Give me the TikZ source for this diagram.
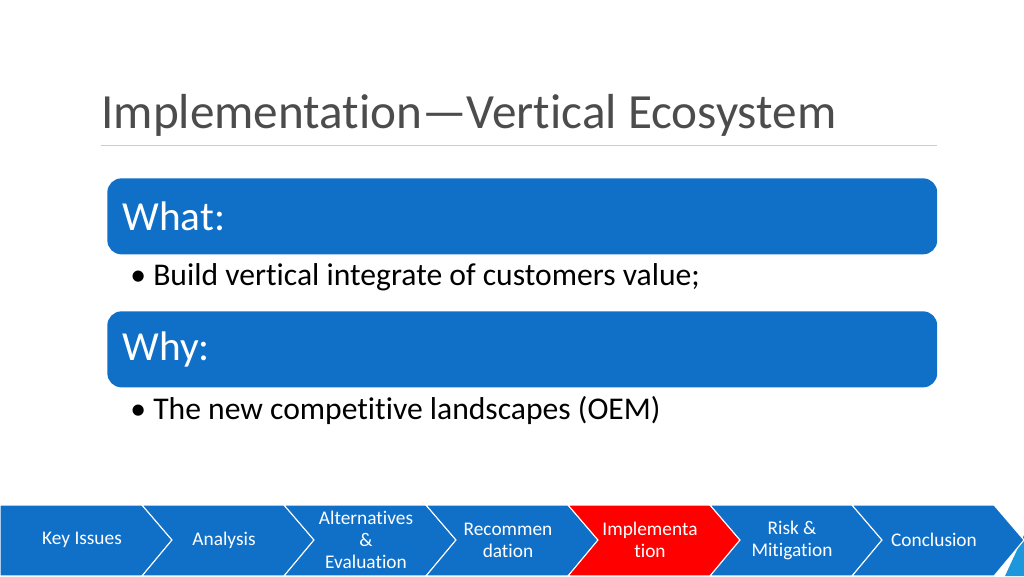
\documentclass[tikz,border=0pt]{standalone}
\usepackage{fontspec}
\setmainfont[Ligatures={NoCommon,NoContextual}]{Carlito}
\definecolor{BoxBlue}{RGB}{16,112,200}
\definecolor{ChevRed}{RGB}{255,0,0}
\definecolor{EdgeBlue}{RGB}{30,150,220}
\usetikzlibrary{positioning}
\begin{document}
\begin{tikzpicture}[x=0.02cm,y=-0.02cm]
	\tikzstyle{head}=[fill=BoxBlue, rounded corners=8pt, text=white, anchor=north west, minimum width=16.58cm, minimum height=1.52cm, font=\fontsize{23.5}{27}\selectfont, text width=16cm, align=left, inner xsep=0.3cm];
	\tikzstyle{bullet}=[anchor=west, font=\fontsize{18}{21}\selectfont, inner sep=0pt];
	\tikzstyle{chev}=[draw=white, line width=0.6pt];
	\tikzstyle{chevtext}=[text=white, font=\fontsize{11}{12.5}\selectfont, align=center];
	\useasboundingbox (0,0) rectangle (1024,576);
	\node [anchor=base west, inner sep=0pt, text=black!70, font=\fontsize{28}{32}\selectfont] (title) at (101,128) {Implementation—Vertical Ecosystem};
	\draw [black!20] (101,145) -- (937,145);
	\node [head] (what) at (107,178) {What:};
	\node [bullet] (b1) at (130,277) {• Build vertical integrate of customers value;};
	\node [head] (why) at (107,311) {Why:};
	\node [bullet] (b2) at (130,410) {• The new competitive landscapes (OEM)};
	% chevrons
	\fill [EdgeBlue] (1024,535) -- (1024,576) -- (1005,576) -- cycle;
	\foreach \i/\lbl in {0/Key Issues,1/Analysis,2/{Alternatives\\\&\\Evaluation},3/{Recommen\\dation},4/{Implementa\\tion},5/{Risk \&\\Mitigation},6/Conclusion}{
		\pgfmathsetmacro{\xa}{142*\i}
		\pgfmathsetmacro{\xb}{142*(\i+1)}
		\ifnum\i=4 \def\cc{ChevRed}\else \def\cc{BoxBlue}\fi
		\ifnum\i=0
			\filldraw [chev, fill=\cc] (\xa,505) -- (\xb,505) -- (\xb+30,540) -- (\xb,576) -- (\xa,576) -- cycle;
		\else
			\filldraw [chev, fill=\cc] (\xa,505) -- (\xb,505) -- (\xb+30,540) -- (\xb,576) -- (\xa,576) -- (\xa+30,540) -- cycle;
		\fi
		\node [chevtext] (c\i) at (\xa+82,540) {\lbl};
	}
\end{tikzpicture}
\end{document}
